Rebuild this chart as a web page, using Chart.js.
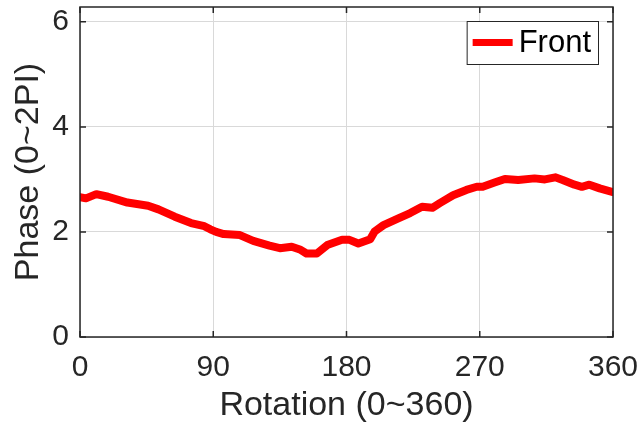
<!DOCTYPE html>
<html>
<head>
<meta charset="utf-8">
<script src="https://cdn.jsdelivr.net/npm/chart.js@4.4.1/dist/chart.umd.min.js"></script>
<style>
    body { margin: 0; background: #ffffff; }
    canvas { display: block; }
</style>
</head>
<body>
<canvas id="PhaseChart" width="641" height="432"></canvas>
<script>
// Werte
const rotation = [0, 4, 11, 19, 32, 46, 53, 64, 75, 84, 88, 92, 97, 108, 117, 128, 135, 143, 149, 153,
    160, 167, 177, 182, 188, 196, 199, 205, 215, 223, 231, 238, 243, 252, 261, 268, 272, 280, 287, 296,
    307, 314, 321, 326, 334, 339, 344, 351, 360];
const phase_front = [2.66, 2.64, 2.72, 2.67, 2.56, 2.50, 2.43, 2.29, 2.17, 2.11, 2.05, 2.00, 1.96, 1.94, 1.83, 1.74, 1.69, 1.72, 1.66, 1.59,
    1.59, 1.75, 1.85, 1.85, 1.78, 1.86, 2.01, 2.13, 2.26, 2.36, 2.48, 2.46, 2.55, 2.70, 2.80, 2.86, 2.86, 2.94, 3.01, 2.99,
    3.02, 3.00, 3.04, 2.99, 2.90, 2.86, 2.90, 2.83, 2.76];
const x_ticks = [0, 90, 180, 270, 360];
const y_ticks = [0, 2, 4, 6];

const axisColor = "#262626";
const fontName = "'Liberation Sans', Arial, Helvetica, sans-serif";

// Rahmen, innere Ticks und Legende im MATLAB-Stil
const matlabBox = {
    id: 'matlabBox',
    afterDatasetsDraw(chart) {
        const ctx = chart.ctx;
        const a = chart.chartArea;
        const xs = chart.scales.x;
        const ys = chart.scales.y;
        ctx.save();
        ctx.strokeStyle = axisColor;
        ctx.lineWidth = 1.5;
        ctx.beginPath();
        x_ticks.forEach(v => {
            const px = xs.getPixelForValue(v);
            ctx.moveTo(px, a.bottom); ctx.lineTo(px, a.bottom - 6);
            ctx.moveTo(px, a.top); ctx.lineTo(px, a.top + 6);
        });
        y_ticks.forEach(v => {
            const py = ys.getPixelForValue(v);
            ctx.moveTo(a.left, py); ctx.lineTo(a.left + 6, py);
            ctx.moveTo(a.right, py); ctx.lineTo(a.right - 6, py);
        });
        ctx.stroke();
        ctx.strokeRect(a.left, a.top, a.right - a.left, a.bottom - a.top);

        // Legende
        const ds = chart.data.datasets[0];
        ctx.font = "31px " + fontName;
        const tw = ctx.measureText(ds.label).width;
        const bw = 6 + 40 + 6 + tw + 7;
        const bh = 43;
        const bx = a.right - 15 - bw;
        const by = a.top + 14;
        ctx.fillStyle = "#ffffff";
        ctx.fillRect(bx, by, bw, bh);
        ctx.lineWidth = 1;
        ctx.strokeStyle = axisColor;
        ctx.strokeRect(bx + 0.5, by + 0.5, bw, bh);
        ctx.strokeStyle = ds.borderColor;
        ctx.lineWidth = 7;
        ctx.beginPath();
        ctx.moveTo(bx + 6, by + bh / 2);
        ctx.lineTo(bx + 46, by + bh / 2);
        ctx.stroke();
        ctx.fillStyle = "#000000";
        ctx.textBaseline = "middle";
        ctx.fillText(ds.label, bx + 52, by + bh / 2 + 1);
        ctx.restore();
    }
};

const ctx = document.getElementById("PhaseChart").getContext("2d");

new Chart(ctx, {
    type: 'line',
    data: {
        datasets: [
            {
                label: 'Front',
                data: rotation.map((r, i) => ({ x: r, y: phase_front[i] })),
                borderColor: "rgb(255, 0, 0)",
                backgroundColor: "rgb(255, 0, 0)",
                borderWidth: 8,
                borderCapStyle: 'round',
                borderJoinStyle: 'round',
                pointRadius: 0,
                fill: false,
                tension: 0
            }
        ]
    },
    options: {
        responsive: false,
        animation: false,
        layout: {
            padding: { left: 0, right: 28, top: 7, bottom: 0 }
        },
        plugins: {
            legend: { display: false },
            tooltip: { enabled: false }
        },
        scales: {
            x: {
                type: 'linear',
                min: 0,
                max: 360,
                afterFit: scale => {
                    scale.height = 95;
                    scale.paddingLeft = 0;
                    scale.paddingRight = 0;
                },
                afterBuildTicks: scale => { scale.ticks = x_ticks.map(v => ({ value: v })); },
                ticks: {
                    color: axisColor,
                    padding: 13,
                    maxRotation: 0,
                    font: { family: fontName, size: 30 }
                },
                grid: {
                    color: "#d9d9d9",
                    lineWidth: 1,
                    drawTicks: false
                },
                border: { display: false },
                title: {
                    display: true,
                    text: 'Rotation (0~360)',
                    color: axisColor,
                    font: { family: fontName, size: 34 },
                    padding: { top: 0, bottom: 6 }
                }
            },
            y: {
                type: 'linear',
                min: 0,
                max: 2 * Math.PI,
                afterFit: scale => {
                    scale.width = 80;
                    scale.paddingTop = 0;
                    scale.paddingBottom = 0;
                },
                afterBuildTicks: scale => { scale.ticks = y_ticks.map(v => ({ value: v })); },
                ticks: {
                    color: axisColor,
                    padding: 11,
                    font: { family: fontName, size: 30 }
                },
                grid: {
                    color: "#d9d9d9",
                    lineWidth: 1,
                    drawTicks: false
                },
                border: { display: false },
                title: {
                    display: true,
                    text: 'Phase (0~2PI)',
                    color: axisColor,
                    font: { family: fontName, size: 34 },
                    padding: { top: 8, bottom: 0 }
                }
            }
        }
    },
    plugins: [matlabBox]
});
</script>
</body>
</html>
